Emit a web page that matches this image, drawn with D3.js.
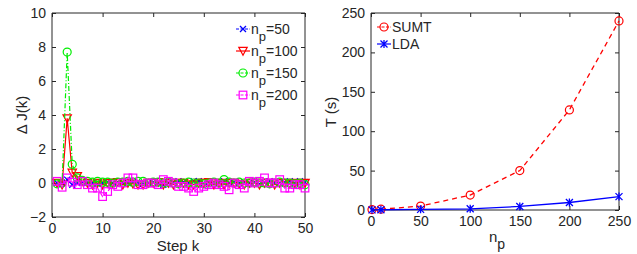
<!DOCTYPE html>
<html>
<head>
<meta charset="utf-8">
<script src="https://cdn.jsdelivr.net/npm/d3@7"></script>
<style>
  body { margin: 0; background: #fff; }
  svg { display: block; font-family: "Liberation Sans", Arial, sans-serif; }
</style>
</head>
<body>
<script>
// ---- data ----
const steps = d3.range(1, 51);
const dj50  = [0,0,0.2,-0.1,0,0.05,0,0,-0.05,0,0.05,0,0.05,0,0,0.05,0,-0.05,0,0.05,0,-0.1,0,0.05,0.1,0.05,0,0.1,0.1,0,0.05,0,0.05,0.1,0,0.05,0,0.05,0,0.05,-0.05,0.05,0.1,0,0,0.05,0.1,0,0.1,0.05];
const dj100 = [0,-0.1,3.8,0.6,0.4,0.1,0,-0.1,0,-0.1,0,0,0.05,-0.1,0,-0.05,-0.1,-0.1,0,0,0.05,-0.1,0,-0.1,0,0,-0.1,-0.1,0,0,0.05,-0.1,0,-0.1,0,0,-0.05,-0.1,0,0,-0.1,0,0,-0.1,0,0,-0.05,0,-0.1,0];
const dj150 = [-0.05,0,7.7,1.1,0.3,0.15,0.1,0.05,0.1,0.05,0.05,0,0.05,0.05,0.1,0.05,0.1,0.1,0,0.05,0.05,0,0.05,0,-0.05,0,0.05,0,0,-0.05,0,0.05,0,0.2,0.05,0,0.05,0,0,0.05,0,0,-0.05,0,0.05,0,0,-0.05,0,-0.1];
const dj200 = [0.1,-0.25,0.3,0.05,-0.1,0.1,-0.1,-0.3,-0.3,-0.8,-0.5,-0.1,-0.2,0,0.3,0.3,-0.1,-0.1,0,0,-0.1,0.2,0.1,0,-0.2,-0.2,-0.3,-0.5,-0.3,-0.2,-0.1,0,-0.1,-0.2,-0.4,0,-0.1,-0.3,0.1,0,0.1,0.3,0,0,0.2,-0.3,-0.3,-0.1,-0.1,-0.3];

const np = [1, 10, 50, 100, 150, 200, 250];
const tSUMT = [0.5, 1, 5, 19, 50, 127, 240];
const tLDA = [0.2, 0.3, 0.8, 1.5, 4.5, 9.5, 17];

const leftSeries = [
  {name: "50",  vals: dj50,  color: "#0000ff", marker: "x",   dash: "5,2,1,2"},
  {name: "100", vals: dj100, color: "#ff0000", marker: "tri", dash: null},
  {name: "150", vals: dj150, color: "#00ee00", marker: "o",   dash: "5,2,1,2"},
  {name: "200", vals: dj200, color: "#ff00ff", marker: "sq",  dash: "4,2"}
];
const rightSeries = [
  {name: "SUMT", vals: tSUMT, color: "#ff0000", marker: "o", dash: "5,4"},
  {name: "LDA",  vals: tLDA,  color: "#0000ff", marker: "*", dash: null}
];

const W = 637, H = 254;
const ink = "#262626";
const svg = d3.select("body").append("svg").attr("width", W).attr("height", H);

function drawMarker(g, type, x, y, color) {
  if (type === "o") {
    g.append("circle").attr("cx", x).attr("cy", y).attr("r", 4)
      .attr("fill", "none").attr("stroke", color).attr("stroke-width", 1.2);
  } else if (type === "sq") {
    g.append("rect").attr("x", x - 3.8).attr("y", y - 3.8).attr("width", 7.6).attr("height", 7.6)
      .attr("fill", "none").attr("stroke", color).attr("stroke-width", 1.2);
  } else if (type === "tri") {
    g.append("path").attr("d", `M${x - 4.2},${y - 3.6}L${x + 4.2},${y - 3.6}L${x},${y + 4.2}Z`)
      .attr("fill", "none").attr("stroke", color).attr("stroke-width", 1.2);
  } else if (type === "x") {
    g.append("path").attr("d", `M${x - 3},${y - 3}L${x + 3},${y + 3}M${x - 3},${y + 3}L${x + 3},${y - 3}`)
      .attr("stroke", color).attr("stroke-width", 1.3);
  } else if (type === "*") {
    g.append("path").attr("d", `M${x - 3.5},${y - 3.5}L${x + 3.5},${y + 3.5}M${x - 3.5},${y + 3.5}L${x + 3.5},${y - 3.5}M${x},${y - 4}L${x},${y + 4}`)
      .attr("stroke", color).attr("stroke-width", 1.3);
  }
}

function frame(x, y, xTicks, yTicks) {
  const [x0, x1] = x.range(), [y0, y1] = y.range();
  const g = svg.append("g").attr("font-size", 14).attr("fill", ink);
  const bx = g.append("g").attr("transform", `translate(0,${y0})`)
    .call(d3.axisBottom(x).tickValues(xTicks).tickSize(-4).tickPadding(6));
  const ly = g.append("g").attr("transform", `translate(${x0},0)`)
    .call(d3.axisLeft(y).tickValues(yTicks).tickSize(-4).tickPadding(6));
  const tx = g.append("g").attr("transform", `translate(0,${y1})`)
    .call(d3.axisTop(x).tickValues(xTicks).tickSize(-4).tickFormat(""));
  const ry = g.append("g").attr("transform", `translate(${x1},0)`)
    .call(d3.axisRight(y).tickValues(yTicks).tickSize(-4).tickFormat(""));
  [bx, ly, tx, ry].forEach(a => {
    a.attr("font-size", 14).attr("font-family", null);
    a.selectAll("path,line").attr("stroke", ink);
    a.selectAll("text").attr("fill", ink);
    a.select(".domain").attr("d", a === bx || a === tx ? `M${x0},0H${x1}` : `M0,${y0}V${y1}`);
  });
}

// ---- left chart ----
const xL = d3.scaleLinear().domain([0, 50]).range([52, 305]);
const yL = d3.scaleLinear().domain([-2, 10]).range([217, 13]);
frame(xL, yL, d3.range(0, 51, 10), d3.range(-2, 11, 2));

const gL = svg.append("g");
leftSeries.forEach(s => {
  const line = d3.line().x((d, i) => xL(steps[i])).y(d => yL(d));
  gL.append("path").datum(s.vals).attr("d", line).attr("fill", "none")
    .attr("stroke", s.color).attr("stroke-width", 1.2).attr("stroke-dasharray", s.dash);
  s.vals.forEach((v, i) => drawMarker(gL, s.marker, xL(steps[i]), yL(v), s.color));
});

// left legend
leftSeries.forEach((s, i) => {
  const cy = 29 + i * 22;
  gL.append("line").attr("x1", 236).attr("x2", 250).attr("y1", cy).attr("y2", cy)
    .attr("stroke", s.color).attr("stroke-width", 1.2).attr("stroke-dasharray", s.dash ? "3,1.5" : null);
  drawMarker(gL, s.marker, 243, cy, s.color);
  const t = gL.append("text").attr("x", 251).attr("y", cy + 5).attr("font-size", 14).attr("fill", ink);
  t.append("tspan").text("n");
  t.append("tspan").attr("dy", 7).attr("font-size", 13).text("p");
  t.append("tspan").attr("dy", -7).text("=" + s.name);
});

svg.append("text").attr("transform", "translate(27,115) rotate(-90)")
  .attr("text-anchor", "middle").attr("font-size", 15).attr("fill", ink).text("Δ J(k)");
svg.append("text").attr("x", 178).attr("y", 251)
  .attr("text-anchor", "middle").attr("font-size", 15).attr("fill", ink).text("Step k");

// ---- right chart ----
const xR = d3.scaleLinear().domain([0, 250]).range([371, 619]);
const yR = d3.scaleLinear().domain([0, 250]).range([210, 13]);
frame(xR, yR, d3.range(0, 251, 50), d3.range(0, 251, 50));

const gR = svg.append("g");
rightSeries.forEach(s => {
  const line = d3.line().x((d, i) => xR(np[i])).y(d => yR(d));
  gR.append("path").datum(s.vals).attr("d", line).attr("fill", "none")
    .attr("stroke", s.color).attr("stroke-width", 1.3).attr("stroke-dasharray", s.dash);
  s.vals.forEach((v, i) => drawMarker(gR, s.marker, xR(np[i]), yR(v), s.color));
});

rightSeries.forEach((s, i) => {
  const cy = 27 + i * 17;
  gR.append("line").attr("x1", 377).attr("x2", 391).attr("y1", cy).attr("y2", cy)
    .attr("stroke", s.color).attr("stroke-width", 1.2).attr("stroke-dasharray", s.dash ? "3,1.5" : null);
  drawMarker(gR, s.marker, 384, cy, s.color);
  gR.append("text").attr("x", 392).attr("y", cy + 5).attr("font-size", 14).attr("fill", ink).text(s.name);
});

svg.append("text").attr("transform", "translate(336,112) rotate(-90)")
  .attr("text-anchor", "middle").attr("font-size", 15).attr("fill", ink).text("T (s)");
const nl = svg.append("text").attr("x", 489).attr("y", 242).attr("font-size", 15).attr("fill", ink);
nl.append("tspan").text("n");
nl.append("tspan").attr("dy", 7).attr("font-size", 14).text("p");
</script>
</body>
</html>
